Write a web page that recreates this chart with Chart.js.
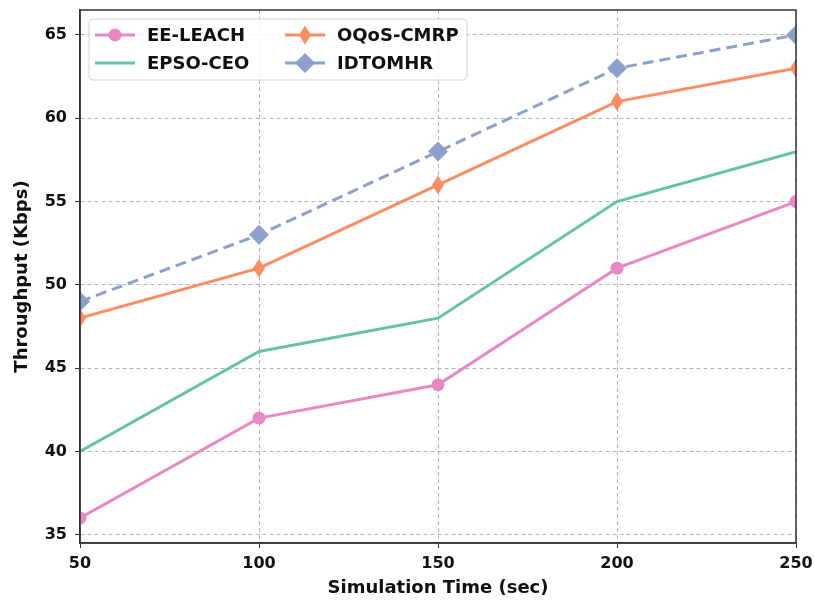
<!DOCTYPE html>
<html>
<head>
<meta charset="utf-8">
<script src="https://cdn.jsdelivr.net/npm/chart.js@4.4.0/dist/chart.umd.min.js"></script>
<style>
  html, body { margin: 0; padding: 0; background: #fff; }
  #wrap { width: 814px; height: 600px; }
</style>
</head>
<body>
<div id="wrap"><canvas id="myChart" width="814" height="600"></canvas></div>
<script>
const simTime = [50, 100, 150, 200, 250];
const eeLeach = [36, 42, 44, 51, 55];
const epsoCeo = [40, 46, 48, 55, 58];
const oqosCmrp = [48, 51, 56, 61, 63];
const idtomhr = [49, 53, 58, 63, 65];
const yTicks = [35, 40, 45, 50, 55, 60, 65];

const FONT = "'DejaVu Sans', sans-serif";

// thin diamond marker (like matplotlib 'd')
function thinDiamond(color, w, h) {
  const c = document.createElement("canvas");
  c.width = w; c.height = h;
  const g = c.getContext("2d");
  g.fillStyle = color;
  g.beginPath();
  g.moveTo(w / 2, 0);
  g.lineTo(w, h / 2);
  g.lineTo(w / 2, h);
  g.lineTo(0, h / 2);
  g.closePath();
  g.fill();
  return c;
}

const pts = (arr) => arr.map((v, i) => ({ x: simTime[i], y: v }));

// clip markers to the plot area, like the axes do in the original
const clipPlugin = {
  id: "clipArea",
  beforeDatasetsDraw(chart) {
    const { ctx, chartArea: a } = chart;
    ctx.save();
    ctx.beginPath();
    ctx.rect(a.left, a.top, a.right - a.left, a.bottom - a.top);
    ctx.clip();
  },
  afterDatasetsDraw(chart) {
    chart.ctx.restore();
  }
};

// frame around plot + legend inside it
const framePlugin = {
  id: "frame",
  afterDraw(chart) {
    const { ctx, chartArea: a } = chart;
    ctx.save();
    ctx.strokeStyle = "#333";
    ctx.lineWidth = 1.5;
    ctx.strokeRect(a.left, a.top, a.right - a.left, a.bottom - a.top);

    // legend box
    const bx = 89, by = 19, bw = 378, bh = 61;
    ctx.fillStyle = "rgba(255,255,255,0.85)";
    ctx.strokeStyle = "#d4d4d4";
    ctx.lineWidth = 1;
    ctx.beginPath();
    ctx.roundRect(bx, by, bw, bh, 4);
    ctx.fill();
    ctx.stroke();

    const ds = chart.data.datasets;
    const cols = [95, 285];
    const rows = [35, 63];
    // dataset index -> [row, col]  (legend filled column by column)
    const slot = [[0, 0], [0, 1], [1, 0], [1, 1]];
    ds.forEach((d, i) => {
      const [r, c] = slot[i];
      const x = cols[c], y = rows[r];
      const mx = x + 20;
      ctx.strokeStyle = d.borderColor;
      ctx.lineWidth = 3;
      ctx.setLineDash([]);
      ctx.beginPath();
      ctx.moveTo(x, y);
      ctx.lineTo(x + 40, y);
      ctx.stroke();
      if (d.pointRadius > 0) {
        if (d.pointStyle instanceof HTMLCanvasElement) {
          const img = d.pointStyle;
          ctx.drawImage(img, mx - img.width / 2, y - img.height / 2);
        } else {
          ctx.fillStyle = d.pointBackgroundColor;
          ctx.beginPath();
          if (d.pointStyle === "circle") {
            ctx.arc(mx, y, d.pointRadius, 0, Math.PI * 2);
          } else {
            const rr = d.pointRadius;
            ctx.moveTo(mx, y - rr); ctx.lineTo(mx + rr, y);
            ctx.lineTo(mx, y + rr); ctx.lineTo(mx - rr, y);
            ctx.closePath();
          }
          ctx.fill();
        }
      }
      ctx.fillStyle = "#111";
      ctx.font = "bold 18px " + FONT;
      ctx.textBaseline = "middle";
      ctx.fillText(d.label, x + 52, y + 1);
    });
    ctx.restore();
  }
};

const tickFont = { family: FONT, size: 16, weight: "bold" };
const titleFont = { family: FONT, size: 18, weight: "bold" };

const ctx = document.getElementById("myChart").getContext("2d");
new Chart(ctx, {
  type: "line",
  data: {
    datasets: [
      {
        label: "EE-LEACH",
        data: pts(eeLeach),
        borderColor: "#e78ac3",
        backgroundColor: "#e78ac3",
        pointBackgroundColor: "#e78ac3",
        pointBorderWidth: 0,
        pointStyle: "circle",
        pointRadius: 6.5,
        borderWidth: 3,
      },
      {
        label: "OQoS-CMRP",
        data: pts(oqosCmrp),
        borderColor: "#fc8d62",
        backgroundColor: "#fc8d62",
        pointBackgroundColor: "#fc8d62",
        pointBorderWidth: 0,
        pointStyle: thinDiamond("#fc8d62", 12, 19),
        pointRadius: 8,
        borderWidth: 3,
      },
      {
        label: "EPSO-CEO",
        data: pts(epsoCeo),
        borderColor: "#66c2a5",
        backgroundColor: "#66c2a5",
        pointRadius: 0,
        borderWidth: 3,
      },
      {
        label: "IDTOMHR",
        data: pts(idtomhr),
        borderColor: "#8da0cb",
        backgroundColor: "#8da0cb",
        pointBackgroundColor: "#8da0cb",
        pointBorderWidth: 0,
        pointStyle: "rectRot",
        pointRadius: 10,
        borderWidth: 3,
        borderDash: [11, 6],
      },
    ],
  },
  options: {
    responsive: false,
    animation: false,
    layout: { padding: { top: 10, right: 18, left: 0, bottom: 0 } },
    plugins: { legend: { display: false }, tooltip: { enabled: false } },
    elements: { line: { tension: 0 } },
    scales: {
      x: {
        type: "linear",
        min: 50,
        max: 250,
        ticks: { stepSize: 50, color: "#111", font: tickFont, padding: 6 },
        grid: { color: "#b4b4b4", lineWidth: 1, tickColor: "#333", tickLength: 5 },
        border: { color: "#333", width: 1.5, dash: [4, 3] },
        title: {
          display: true,
          text: "Simulation Time (sec)",
          color: "#111",
          font: titleFont,
          padding: { top: 0, bottom: 1 },
        },
        afterFit(scale) {
          scale.height = 57;
          scale.paddingLeft = 0;
          scale.paddingRight = 0;
        },
      },
      y: {
        min: 34.5,
        max: 66.5,
        afterBuildTicks(scale) { scale.ticks = yTicks.map((v) => ({ value: v })); },
        ticks: { color: "#111", font: tickFont, padding: 8 },
        grid: { color: "#b4b4b4", lineWidth: 1, tickColor: "#333", tickLength: 5 },
        border: { color: "#333", width: 1.5, dash: [4, 3] },
        title: {
          display: true,
          text: "Throughput (Kbps)",
          color: "#111",
          font: titleFont,
          padding: { top: 12, bottom: 0 },
        },
        afterFit(scale) {
          scale.width = 80;
          scale.paddingTop = 0;
          scale.paddingBottom = 0;
        },
      },
    },
  },
  plugins: [clipPlugin, framePlugin],
});
</script>
</body>
</html>
